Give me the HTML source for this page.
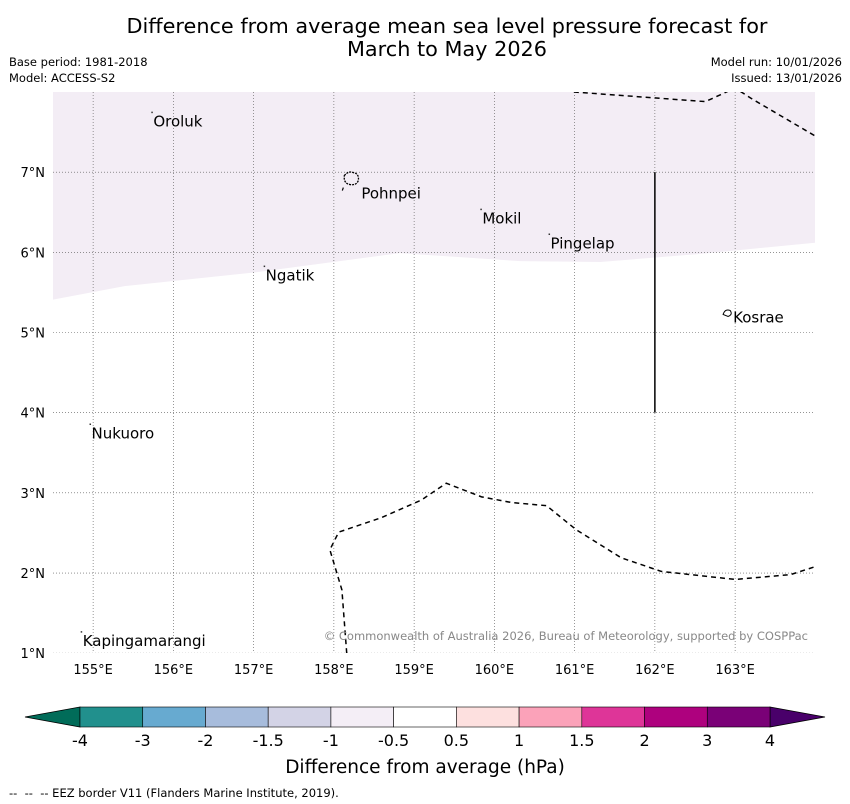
<!DOCTYPE html>
<html><head><meta charset="utf-8"><style>
body{margin:0;background:#fff;font-family:"DejaVu Sans","Liberation Sans",sans-serif;}
#wrap{position:relative;width:850px;height:804px;overflow:hidden;}
</style></head><body>
<div id="wrap">
<svg id="svg" width="850" height="804" xmlns="http://www.w3.org/2000/svg" font-family="DejaVu Sans, Liberation Sans, sans-serif">
<text x="447" y="33" font-size="20.8" text-anchor="middle">Difference from average mean sea level pressure forecast for</text>
<text x="447" y="56" font-size="20.8" text-anchor="middle">March to May 2026</text>
<text x="9" y="66" font-size="11.5">Base period: 1981-2018</text>
<text x="9" y="82" font-size="11.5">Model: ACCESS-S2</text>
<text x="842" y="66" font-size="11.5" text-anchor="end">Model run: 10/01/2026</text>
<text x="842" y="82" font-size="11.5" text-anchor="end">Issued: 13/01/2026</text>
<defs><clipPath id="mapclip"><rect x="53" y="92" width="762" height="561"/></clipPath></defs>
<g id="map" clip-path="url(#mapclip)"></g>
<text x="808" y="640" font-size="11.5" fill="#888" text-anchor="end">© Commonwealth of Australia 2026, Bureau of Meteorology, supported by COSPPac</text>
<g id="axes"></g>
<g id="cbar"></g>
<text x="425" y="773" font-size="18.5" text-anchor="middle">Difference from average (hPa)</text>
<text x="9" y="797" font-size="11.5" xml:space="preserve">--  --  -- EEZ border V11 (Flanders Marine Institute, 2019).</text>
</svg>
</div>
<script>
const lonTicks=[155,156,157,158,159,160,161,162,163];
const latTicks=[1,2,3,4,5,6,7];
const contourLon=[154.5,155.4,157.02,158.82,160.32,161.32,162.56,164.0];
const contourLat=[5.41,5.58,5.75,5.99,5.89,5.88,5.98,6.12];
const eezTopLon=[160.99,162.63,163.0,163.2,164.0];
const eezTopLat=[8.0,7.88,8.05,7.92,7.45];
const eezBotLon=[158.16,158.1,157.95,158.06,158.59,159.09,159.4,159.84,160.21,160.65,161.02,161.58,162.08,163.0,163.69,164.0];
const eezBotLat=[1.0,1.79,2.29,2.51,2.69,2.91,3.12,2.95,2.88,2.84,2.54,2.19,2.02,1.92,1.98,2.08];
const islands=["Oroluk","Pohnpei","Mokil","Pingelap","Ngatik","Kosrae","Nukuoro","Kapingamarangi"];
const islandLon=[155.75,158.23,159.85,160.7,157.15,162.95,154.98,154.87];
const islandLat=[7.73,6.87,6.52,6.21,5.81,5.3,3.84,1.25];
const cbLabels=["-4","-3","-2","-1.5","-1","-0.5","0.5","1","1.5","2","3","4"];
const cbColors=["#21908d","#67aad0","#a7bcdc","#d3d3e6","#f4eef6","#ffffff","#fde0df","#fba2b9","#de3598","#ae017e","#7a0177"];
const X=lon=>53+(lon-154.5)*80.25;
const Y=lat=>92+(8-lat)*80.17;
const NS="http://www.w3.org/2000/svg";
function mk(tag,attrs,parent){const e=document.createElementNS(NS,tag);for(const k in attrs)e.setAttribute(k,attrs[k]);parent.appendChild(e);return e;}
const map=document.getElementById('map'),axes=document.getElementById('axes'),cbar=document.getElementById('cbar');
let d="M53,92 ";contourLon.forEach((l,i)=>d+="L"+X(l)+","+Y(contourLat[i])+" ");d+="L815,92 Z";
let f=mk('path',{d:d,fill:'#f3edf5'},map);


lonTicks.forEach(l=>{const g=mk('line',{x1:X(l),x2:X(l),y1:92,y2:653,stroke:'#555','stroke-width':0.6,'stroke-dasharray':'1,2'},map);


const t=mk('text',{x:X(l),y:674,'font-size':13,'text-anchor':'middle'},axes);t.textContent=l+"°E";

});
latTicks.forEach(l=>{const g=mk('line',{x1:53,x2:815,y1:Y(l),y2:Y(l),stroke:'#555','stroke-width':0.6,'stroke-dasharray':'1,2'},map);


const t=mk('text',{x:45,y:Y(l)+5,'font-size':13,'text-anchor':'end'},axes);t.textContent=l+"°N";

});
function poly(lons,lats,name){const p=mk('polyline',{points:lons.map((l,i)=>X(l)+","+Y(lats[i])).join(" "),fill:'none',stroke:'#000','stroke-width':1.5,'stroke-dasharray':'5,4'},map);

}
poly(eezTopLon,eezTopLat,'eez-border-north');
poly(eezBotLon,eezBotLat,'eez-border-south');
const vl=mk('line',{x1:X(162),x2:X(162),y1:Y(7),y2:Y(4),stroke:'#000','stroke-width':1.5},map);


islands.forEach((n,i)=>{const x=X(islandLon[i]),y=Y(islandLat[i]);
if(n==="Pohnpei"){const s=mk('path',{d:`M${x-8},${y-7} q4,-5 9,-3 q6,1 5,8 q-2,5 -8,4 q-7,-1 -6,-9z`,fill:'none',stroke:'#000','stroke-width':1.3,'stroke-dasharray':'2,1'},map);


const s2=mk('line',{x1:x-10,y1:y+8,x2:x-9,y2:y+5,stroke:'#000','stroke-width':1.2},map);

}
else if(n==="Kosrae"){const s=mk('path',{d:`M${x-8},${y+6} q2,-6 7,-4 q3,4 -2,6z`,fill:'none',stroke:'#000','stroke-width':1},map);

}
else{const m=mk('rect',{x:x-2,y:y-2,width:1.5,height:1.5,fill:'#333'},map);

}
const t=mk('text',{x:x+(n==="Pohnpei"?9:n==="Kosrae"?2:0),y:y+(n==="Pohnpei"?16:n==="Kosrae"?14:13),'font-size':15},map);t.textContent=n;

});
const cbX0=80,cbX1=770,cbY=707,cbH=20,w=(cbX1-cbX0)/cbColors.length;
const lt=mk('polygon',{points:`${cbX0},${cbY} 25,${cbY+cbH/2} ${cbX0},${cbY+cbH}`,fill:'#016c59',stroke:'#000','stroke-width':0.8},cbar);


const rt=mk('polygon',{points:`${cbX1},${cbY} 825,${cbY+cbH/2} ${cbX1},${cbY+cbH}`,fill:'#49006a',stroke:'#000','stroke-width':0.8},cbar);


cbColors.forEach((c,i)=>{const r=mk('rect',{x:cbX0+i*w,y:cbY,width:w,height:cbH,fill:c,stroke:'#000','stroke-width':0.6},cbar);

});
cbLabels.forEach((s,i)=>{const t=mk('text',{x:cbX0+i*w,y:746,'font-size':16,'text-anchor':'middle'},cbar);t.textContent=s;

});
</script>
</body></html>
